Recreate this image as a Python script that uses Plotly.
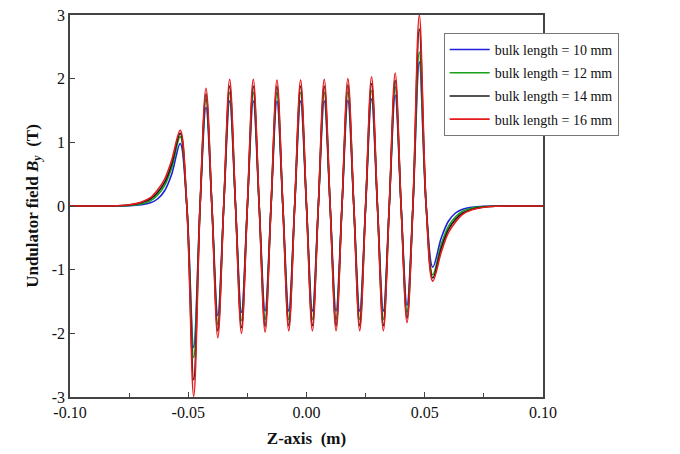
import plotly.graph_objects as go

# Key z positions (m): tails, bumps, zero crossings, peaks and dips
z_left_tail = [-0.100, -0.080, -0.075, -0.070, -0.066, -0.063, -0.060, -0.057, -0.0534, -0.0506, -0.0477, -0.0450]
z_mid_peaks = [-0.0425, -0.0325, -0.0225, -0.0125, -0.0025, 0.0075, 0.0175, 0.0275, 0.0375]
z_mid_dips = [-0.0375, -0.0275, -0.0175, -0.0075, 0.0025, 0.0125, 0.0225, 0.0325, 0.0425]
z_mid_zeros = [-0.0400, -0.0350, -0.0300, -0.0250, -0.0200, -0.0150, -0.0100, -0.0050, 0.0000,
               0.0050, 0.0100, 0.0150, 0.0200, 0.0250, 0.0300, 0.0350, 0.0400]
z_right_tail = [0.0450, 0.0477, 0.0506, 0.0534, 0.057, 0.060, 0.063, 0.066, 0.070, 0.075, 0.080, 0.100]

labels = ["bulk length = 10 mm", "bulk length = 12 mm", "bulk length = 14 mm", "bulk length = 16 mm"]
colors = ["#1f1fdc", "#18a018", "#1a1a1a", "#e41a1c"]

x_tickvals = [-0.10, -0.05, 0.0, 0.05, 0.10]
x_ticktext = ["-0.10", "-0.05", "0.00", "0.05", "0.10"]
y_tickvals = [-3, -2, -1, 0, 1, 2, 3]
y_ticktext = ["-3", "-2", "-1", "0", "1", "2", "3"]

# Left tail values (last two: big dip at -0.0477, zero at -0.045)
left_tail = {
    "10": [0, 0.0, 0.005, 0.02, 0.05, 0.11, 0.24, 0.50, 0.98, 0, -2.22, 0],
    "12": [0, 0.003, 0.01, 0.03, 0.08, 0.17, 0.32, 0.60, 1.09, 0, -2.38, 0],
    "14": [0, 0.004, 0.015, 0.05, 0.11, 0.21, 0.37, 0.66, 1.14, 0, -2.73, 0],
    "16": [0, 0.005, 0.02, 0.06, 0.13, 0.25, 0.42, 0.72, 1.19, 0, -2.99, 0],
}
peaks = {
    "10": [1.55, 1.65, 1.65, 1.65, 1.65, 1.65, 1.66, 1.68, 1.74],
    "12": [1.68, 1.78, 1.78, 1.78, 1.78, 1.78, 1.79, 1.81, 1.87],
    "14": [1.76, 1.88, 1.88, 1.88, 1.88, 1.88, 1.90, 1.92, 1.97],
    "16": [1.85, 1.99, 1.99, 1.98, 1.98, 1.99, 2.00, 2.03, 2.09],
}
dips = {
    "10": [-1.72, -1.67, -1.65, -1.65, -1.65, -1.65, -1.65, -1.65, -1.56],
    "12": [-1.86, -1.80, -1.78, -1.78, -1.78, -1.78, -1.78, -1.78, -1.67],
    "14": [-1.96, -1.91, -1.89, -1.88, -1.88, -1.88, -1.88, -1.88, -1.76],
    "16": [-2.07, -2.00, -1.98, -1.96, -1.96, -1.96, -1.96, -1.96, -1.83],
}
# Right tail values (first: zero at 0.045, big peak at 0.0477, ...)
right_tail = {
    "10": [0, 2.26, 0, -0.96, -0.50, -0.24, -0.11, -0.05, -0.02, -0.005, 0.0, 0],
    "12": [0, 2.42, 0, -1.08, -0.60, -0.32, -0.17, -0.08, -0.03, -0.01, -0.003, 0],
    "14": [0, 2.78, 0, -1.13, -0.66, -0.37, -0.21, -0.11, -0.05, -0.015, -0.004, 0],
    "16": [0, 3.00, 0, -1.18, -0.72, -0.42, -0.25, -0.13, -0.06, -0.02, -0.005, 0],
}

fig = go.Figure()
for key, name, col in zip(["10", "12", "14", "16"], labels, colors):
    pts = list(zip(z_left_tail, left_tail[key]))
    pts += list(zip(z_mid_peaks, peaks[key]))
    pts += list(zip(z_mid_dips, dips[key]))
    pts += [(z, 0.0) for z in z_mid_zeros]
    pts += list(zip(z_right_tail, right_tail[key]))
    pts.sort(key=lambda p: p[0])
    fig.add_trace(go.Scatter(
        x=[p[0] for p in pts], y=[p[1] for p in pts], mode="lines", name=name,
        legendgroup=key,
        line=dict(color=col, width=1.6, shape="spline", smoothing=1.0),
    ))

font_family = "Liberation Serif"
fig.update_layout(
    width=680, height=454,
    margin=dict(l=70, r=137, t=15, b=57),
    paper_bgcolor="white", plot_bgcolor="white",
    font=dict(family=font_family, size=16, color="#111"),
    showlegend=True,
    legend=dict(x=0.79, y=0.953, xanchor="left", yanchor="top",
                bgcolor="white", bordercolor="#777", borderwidth=1,
                font=dict(family=font_family, size=14, color="#111"),
                tracegroupgap=2, itemwidth=40),
    xaxis=dict(range=[-0.10, 0.10], tickvals=x_tickvals, ticktext=x_ticktext,
               ticks="inside", ticklen=5, tickcolor="#444",
               showline=True, linecolor="#444", linewidth=1.5, mirror=True,
               showgrid=False, zeroline=False, automargin=False,
               minor=dict(ticks="inside", ticklen=4, tickcolor="#444", dtick=0.025, showgrid=False),
               title=dict(text="<b>Z-axis  (m)</b>", font=dict(family=font_family, size=17), standoff=12)),
    yaxis=dict(range=[-3, 3], tickvals=y_tickvals, ticktext=y_ticktext,
               ticks="inside", ticklen=5, tickcolor="#444",
               showline=True, linecolor="#444", linewidth=1.5, mirror=True,
               showgrid=False, zeroline=False, automargin=False, ticklabeloverflow="allow",
               title=dict(text="<b>Undulator field <i>B</i><sub><i>y</i></sub>  (T)</b>",
                          font=dict(family=font_family, size=17), standoff=9)),
)

fig.write_html("out.html", config={"displayModeBar": False},
               post_script="document.body.style.margin='0';")
